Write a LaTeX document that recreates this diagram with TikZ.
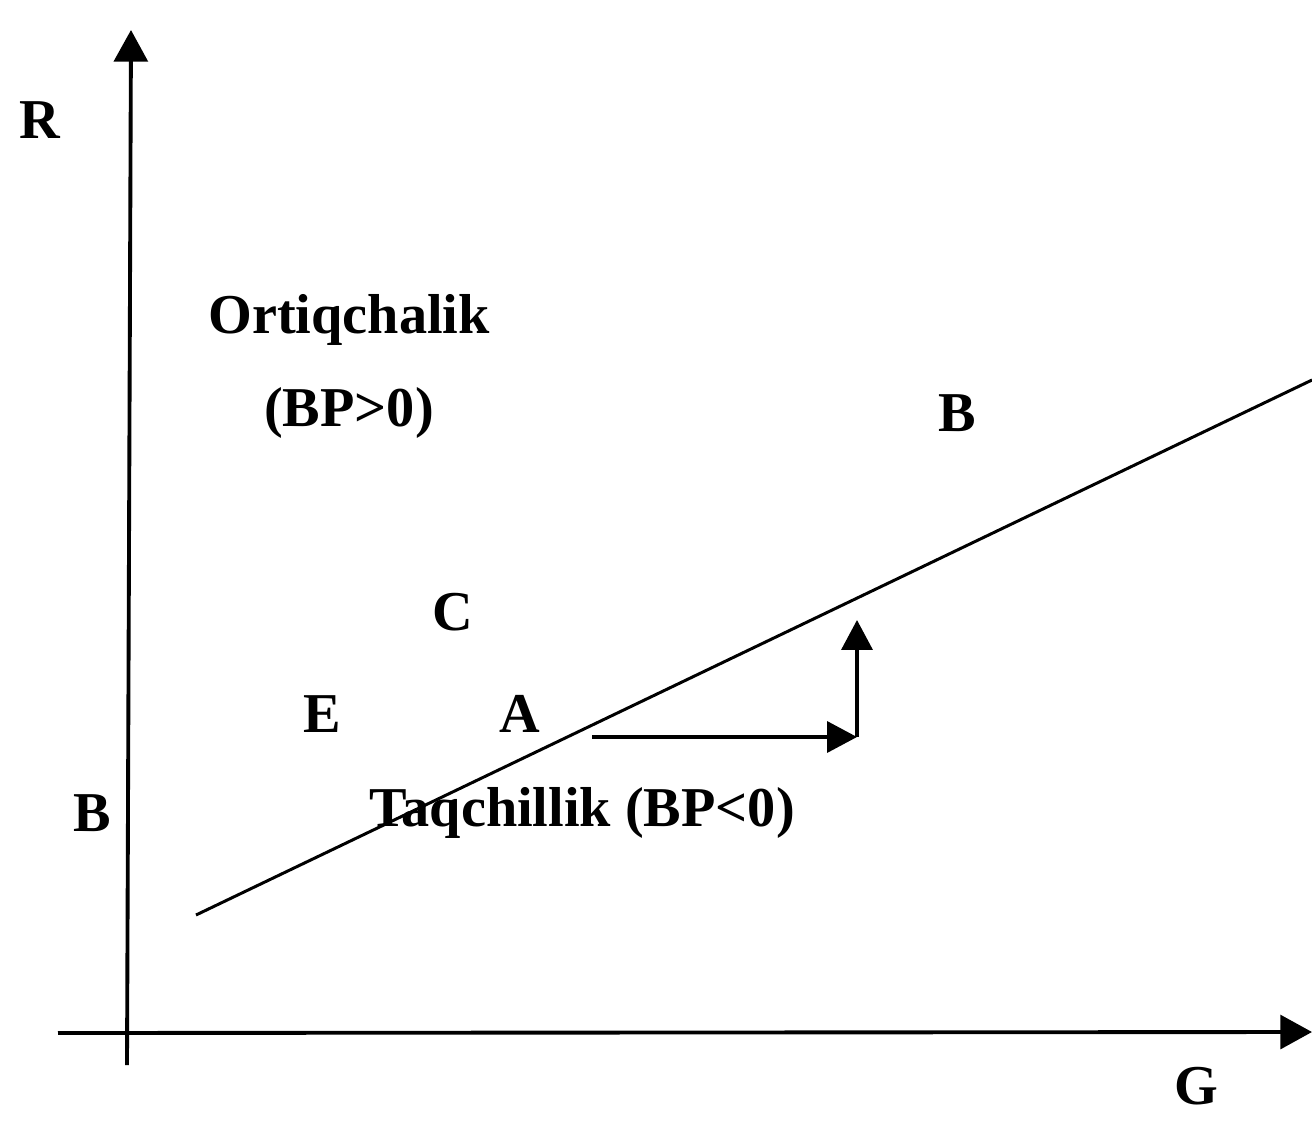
\documentclass[tikz,border=0pt]{standalone}
\usepackage{fontspec}
\setmainfont{Liberation Serif}
\usetikzlibrary{arrows.meta}
\begin{document}
\begin{tikzpicture}[x=0.01cm,y=-0.01cm,
  lbl/.style={font=\fontsize{16}{18}\selectfont\bfseries, inner sep=0pt},
  axis/.style={line width=1.1pt, -{Triangle[length=9pt,width=9.6pt]}},
  small/.style={line width=1.0pt, -{Triangle[length=8.5pt,width=8.8pt]}},
  curve/.style={line width=0.85pt}]
\useasboundingbox (0,0) rectangle (1312,1121);
% axes
\coordinate (yb) at (127,1065);
\coordinate (yt) at (131,30);
\coordinate (xl) at (58,1033);
\coordinate (xr) at (1312,1032);
\draw[axis] (yb) -- (yt);
\draw[axis] (xl) -- (xr);
% line
\coordinate (l1) at (196,915);
\coordinate (l2) at (1312,380);
\draw[curve] (l1) -- (l2);
% arrows
\coordinate (a0) at (592,737);
\coordinate (a1) at (857,737);
\coordinate (a2) at (857,620);
\draw[small] (a0) -- (a1);
\draw[small] (a1) -- (a2);
% labels
\node[lbl] (R) at (40,120) {R};
\node[lbl] (ort) at (349,320) {Ortiqchalik};
\node[lbl] (bpg) at (349,413) {(BP>0)};
\node[lbl] (Bt) at (957,413) {B};
\node[lbl] (C) at (453,612) {C};
\node[lbl] (E) at (322,714) {E};
\node[lbl] (A) at (520,714) {A};
\node[lbl] (Bl) at (92,813) {B};
\node[lbl] (taq) at (582,813) {Taqchillik (BP<0)};
\node[lbl] (G) at (1196,1086) {G};
\end{tikzpicture}
\end{document}
